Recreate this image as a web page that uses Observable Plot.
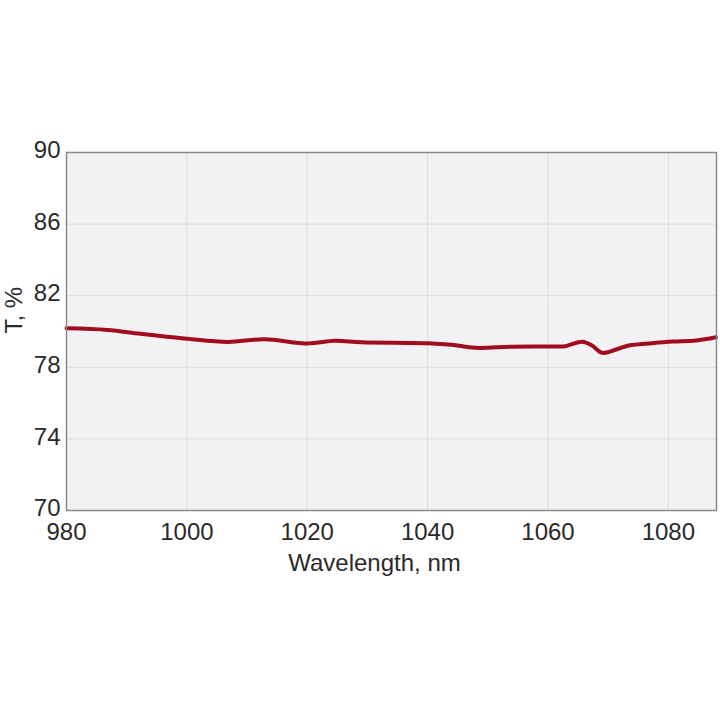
<!DOCTYPE html>
<html>
<head>
<meta charset="utf-8">
<script src="https://cdn.jsdelivr.net/npm/d3@7"></script>
<script src="https://cdn.jsdelivr.net/npm/@observablehq/plot@0.6"></script>
<style>
  html, body { margin: 0; padding: 0; background: #fff; }
</style>
</head>
<body>
<div id="chart"></div>
<script>
const wavelength = [980, 986.8, 992.3, 1000.1, 1006.8, 1012.9, 1020.1, 1024.6, 1029, 1040.1, 1044, 1047.9, 1054, 1060.7, 1062.9, 1065.7, 1067.3, 1069, 1071.2, 1073.4, 1077.3, 1080.7, 1084.6, 1087.9];
const transmission = [80.18, 80.09, 79.87, 79.59, 79.42, 79.57, 79.33, 79.48, 79.40, 79.35, 79.26, 79.09, 79.15, 79.16, 79.18, 79.43, 79.22, 78.81, 78.98, 79.22, 79.35, 79.44, 79.50, 79.68];
const xTicks = [980, 1000, 1020, 1040, 1060, 1080];
const yTicks = [70, 74, 78, 82, 86, 90];
const xLabel = ["Wavelength, nm"];
const yLabel = ["T, %"];

const data = wavelength.map((w, i) => ({w, t: transmission[i]}));

const chart = Plot.plot({
  width: 720,
  height: 720,
  marginLeft: 66,
  marginRight: 4,
  marginTop: 152,
  marginBottom: 210,
  style: {fontFamily: "'Liberation Sans', Arial, sans-serif", fontSize: "24px", color: "#2a2a2a", background: "#fff"},
  x: {domain: [980, 1088], ticks: xTicks, tickFormat: "d", tickSize: 0, tickPadding: 12, label: null},
  y: {domain: [70, 90], ticks: yTicks, tickFormat: "d", tickSize: 0, tickPadding: 6, label: null},
  marks: [
    Plot.frame({fill: "#f2f2f4", stroke: null}),
    Plot.gridX(xTicks, {stroke: "#dcdcdc", strokeOpacity: 1, strokeWidth: 1}),
    Plot.gridY(yTicks, {stroke: "#dcdcdc", strokeOpacity: 1, strokeWidth: 1}),
    Plot.line(data, {x: "w", y: "t", stroke: "#a10d1f", strokeWidth: 4, curve: "catmull-rom"}),
    Plot.frame({stroke: "#8a8a8a", strokeWidth: 1.5}),
    Plot.axisX({ticks: xTicks, tickFormat: "d", tickSize: 0, tickPadding: 12, label: null}),
    Plot.axisY({ticks: yTicks, tickFormat: "d", tickSize: 0, tickPadding: 6, dy: -2, label: null}),
    Plot.text(xLabel, {frameAnchor: "bottom", dx: -17, dy: 60, fontSize: 24, fill: "#2a2a2a"}),
    Plot.text(yLabel, {frameAnchor: "left", rotate: -90, dx: -52, dy: 2, fontSize: 24, fill: "#2a2a2a"})
  ]
});
document.getElementById("chart").appendChild(chart);
</script>
</body>
</html>
